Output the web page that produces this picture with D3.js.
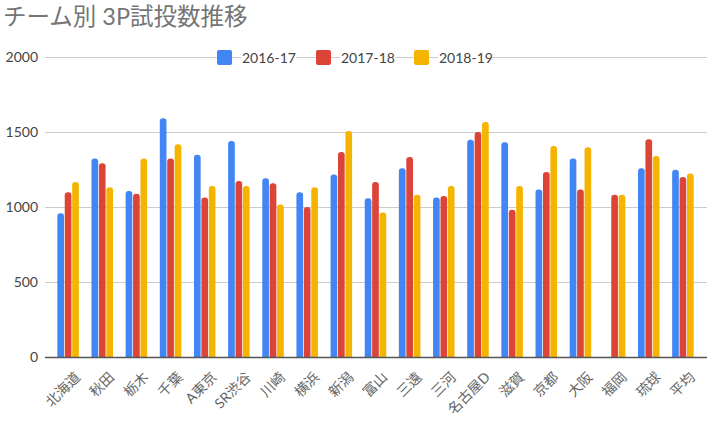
<!DOCTYPE html>
<html>
<head>
<meta charset="utf-8">
<script src="https://cdn.jsdelivr.net/npm/d3@7"></script>
<style>
  body { margin: 0; background: #fff; }
  text { font-family: "Lato", "Noto Sans CJK JP", sans-serif; }
</style>
</head>
<body>
<div id="chart"></div>
<script>
// team names along the x axis
var teams = ["北海道", "秋田", "栃木", "千葉", "A東京", "SR渋谷", "川崎", "横浜", "新潟", "富山",
             "三遠", "三河", "名古屋D", "滋賀", "京都", "大阪", "福岡", "琉球", "平均"];
var seasons = ["2016-17", "2017-18", "2018-19"];
var colors = ["#4285f4", "#db4437", "#f4b400"];

// 3P attempts per season (福岡 had no B1 season in 2016-17)
var att1617 = [958, 1324, 1107, 1591, 1349, 1440, 1191, 1098, 1216, 1058,
               1258, 1064, 1449, 1431, 1116, 1324, null, 1258, 1249];
var att1718 = [1098, 1291, 1089, 1324, 1064, 1173, 1158, 1000, 1367, 1167,
               1333, 1073, 1500, 982, 1233, 1116, 1082, 1451, 1200];
var att1819 = [1167, 1131, 1324, 1418, 1140, 1140, 1016, 1131, 1507, 964,
               1082, 1140, 1567, 1140, 1407, 1398, 1082, 1340, 1224];
var yTicks = [0, 500, 1000, 1500, 2000];

var series = [att1617, att1718, att1819];

var width = 721, height = 423;
var svg = d3.select("#chart").append("svg")
    .attr("width", width)
    .attr("height", height);

var x = d3.scaleBand()
    .domain(teams)
    .range([51, 700])
    .paddingInner(0.37)
    .paddingOuter(0.185);

var xs = d3.scaleBand()
    .domain(d3.range(seasons.length))
    .range([0, x.bandwidth()])
    .paddingInner(0.1);

var y = d3.scaleLinear()
    .domain([0, 2000])
    .range([357, 57]);

// title
svg.append("text")
    .attr("x", 3)
    .attr("y", 25)
    .attr("font-size", "23.5px")
    .attr("fill", "#757575")
    .text("チーム別 3P試投数推移");

// gridlines
svg.append("g")
    .selectAll("line")
    .data(yTicks.filter(function (d) { return d > 0; }))
    .enter().append("line")
    .attr("x1", 45)
    .attr("x2", 707)
    .attr("y1", function (d) { return y(d) + 0.5; })
    .attr("y2", function (d) { return y(d) + 0.5; })
    .attr("stroke", "#cccccc")
    .attr("stroke-width", 1);

// y labels
svg.append("g")
    .selectAll("text")
    .data(yTicks)
    .enter().append("text")
    .attr("x", 38)
    .attr("y", function (d) { return y(d) + 5; })
    .attr("text-anchor", "end")
    .attr("font-size", "14px")
    .attr("fill", "#444")
    .text(function (d) { return d; });

// legend, sitting on the top gridline
var legendX = [217, 316, 414];
var legend = svg.append("g")
    .selectAll("g")
    .data(seasons)
    .enter().append("g")
    .attr("transform", function (d, i) { return "translate(" + legendX[i] + ",50)"; });

legend.append("rect")
    .attr("width", 15)
    .attr("height", 15)
    .attr("rx", 2)
    .attr("fill", function (d, i) { return colors[i]; });

legend.append("rect")
    .attr("x", 24)
    .attr("y", 0)
    .attr("width", 55)
    .attr("height", 15)
    .attr("fill", "#fff");

legend.append("text")
    .attr("x", 25)
    .attr("y", 12.5)
    .attr("font-size", "14px")
    .attr("fill", "#444")
    .text(function (d) { return d; });

// bars: rounded top, flat bottom
function barPath(x0, w, yTop, yBase) {
    var r = Math.min(w / 2, 3);
    return "M" + x0 + "," + yBase +
        "V" + (yTop + r) +
        "Q" + x0 + "," + yTop + " " + (x0 + r) + "," + yTop +
        "H" + (x0 + w - r) +
        "Q" + (x0 + w) + "," + yTop + " " + (x0 + w) + "," + (yTop + r) +
        "V" + yBase + "Z";
}

var groups = svg.append("g")
    .selectAll("g")
    .data(teams)
    .enter().append("g")
    .attr("transform", function (d) { return "translate(" + x(d) + ",0)"; });

groups.selectAll("path")
    .data(function (d, ti) {
        return series.map(function (s, si) { return { si: si, v: s[ti] }; })
            .filter(function (e) { return e.v != null; });
    })
    .enter().append("path")
    .attr("d", function (e) { return barPath(xs(e.si), xs.bandwidth(), y(e.v), y(0)); })
    .attr("fill", function (e) { return colors[e.si]; });

// baseline
svg.append("line")
    .attr("x1", 45)
    .attr("x2", 707)
    .attr("y1", y(0) + 0.5)
    .attr("y2", y(0) + 0.5)
    .attr("stroke", "#555")
    .attr("stroke-width", 1.3);

// x labels, rotated
svg.append("g")
    .selectAll("text")
    .data(teams)
    .enter().append("text")
    .attr("transform", function (d) {
        return "translate(" + (x(d) + x.bandwidth() / 2 + 13) + ",378) rotate(-45)";
    })
    .attr("text-anchor", "end")
    .attr("font-size", "14px")
    .attr("fill", "#666")
    .text(function (d) { return d; });
</script>
</body>
</html>
